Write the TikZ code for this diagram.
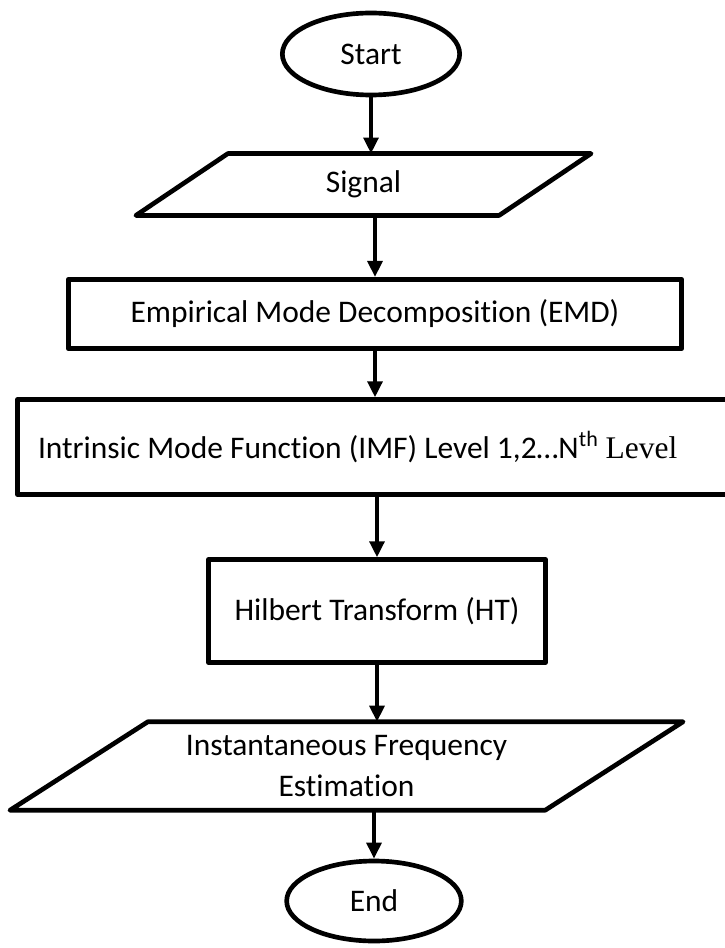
\documentclass[tikz,border=0pt]{standalone}
\usepackage{fontspec}
\setmainfont{Carlito}[Ligatures=NoCommon]
\newfontfamily\serifpart{Liberation Serif}
\usetikzlibrary{arrows.meta,shapes.geometric,calc}

\begin{document}
\begin{tikzpicture}[x=0.75pt, y=-0.75pt,
    every node/.style={font=\fontsize{23.6}{31}\selectfont},
    terminal/.style={ellipse, draw, line width=3.5pt, inner sep=0pt},
    process/.style={rectangle, draw, line width=3.5pt, line join=round},
    iobox/.style={rectangle, inner sep=0pt, align=center},
    para/.style={line width=3.5pt, line join=round},
    flow/.style={line width=3pt, -{Triangle[width=11pt,length=12pt]}}]

    % constants
    \def\slantsig{46}
    \def\slantife{69}

    \useasboundingbox (0,0) rectangle (724,948);

    % start
    \node[terminal, minimum width=133pt, minimum height=61.5pt] (start) at (371,54) {Start};

    % input signal
    \node[iobox, minimum width=272pt, minimum height=46pt] (sig) at (363.5,184.5) {Signal};
    \draw[para] ($(sig.north west)+(\slantsig,0)$) -- ($(sig.north east)+(\slantsig,0)$)
        -- ($(sig.south east)-(\slantsig,0)$) -- ($(sig.south west)-(\slantsig,0)$) -- cycle;

    % decomposition steps
    \node[process, minimum width=460pt, minimum height=52pt] (emd) at (375,314) {Empirical Mode Decomposition (EMD)};
    \node[process, minimum height=71pt, text width=507pt, inner xsep=15.4pt, align=flush left] (imf) at (376,447)
        {Intrinsic Mode Function (IMF) Level 1,2…N\textsuperscript{th} {\serifpart Level}};
    \node[process, minimum width=253pt, minimum height=77pt] (ht) at (377,611) {Hilbert Transform (HT)};

    % output
    \node[iobox, minimum width=401pt, minimum height=66pt] (ife) at (346.5,766) {Instantaneous Frequency\\Estimation};
    \draw[para] ($(ife.north west)+(\slantife,0)$) -- ($(ife.north east)+(\slantife,0)$)
        -- ($(ife.south east)-(\slantife,0)$) -- ($(ife.south west)-(\slantife,0)$) -- cycle;

    % end
    \node[terminal, minimum width=131pt, minimum height=60pt] (stop) at (374,901) {End};

    % arrows
    \draw[flow] (start.south) -- (start.south |- sig.north);
    \draw[flow] (emd.north |- sig.south) -- (emd.north);
    \draw[flow] (emd.south) -- (emd.south |- imf.north);
    \draw[flow] (ht.north |- imf.south) -- (ht.north);
    \draw[flow] (ht.south) -- (ht.south |- ife.north);
    \draw[flow] (stop.north |- ife.south) -- (stop.north);

\end{tikzpicture}
\end{document}
